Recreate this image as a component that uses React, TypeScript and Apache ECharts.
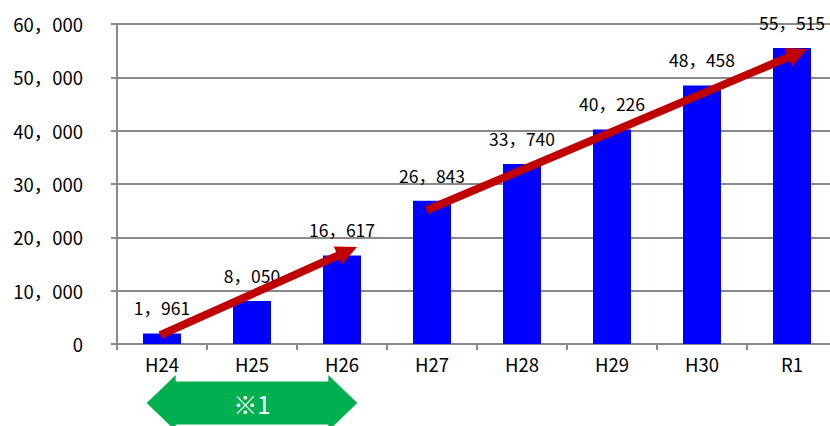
import React, { useEffect, useRef } from "react";
import * as echarts from "echarts";

const categories = ["H24", "H25", "H26", "H27", "H28", "H29", "H30", "R1"];
const values = [1961, 8050, 16617, 26843, 33740, 40226, 48458, 55515];
const yMin = 0;
const yMax = 60000;
const yInterval = 10000;
// trend arrows: [category index (fractional), value]
const arrow1From = [-0.02, 1650];
const arrow1To = [2.167, 18180];
const arrow2From = [2.94, 25070];
const arrow2To = [7.173, 55300];
// period bracket under the axis (category index range)
const periodRange = [-0.17, 2.17];
const periodLabel = "※1";

const FONT = "'Noto Sans CJK JP', 'Noto Sans', sans-serif";
const GRAY = "#8a8a8a";

function fmt(n: number): string {
  return String(n).replace(/\B(?=(\d{3})+(?!\d))/g, "，");
}

export default function App() {
  const ref = useRef<HTMLDivElement>(null);
  useEffect(() => {
    document.body.style.margin = "0";
    const chart = echarts.init(ref.current!, undefined, { renderer: "svg" });
    chart.setOption({
      animation: false,
      textStyle: { fontFamily: FONT },
      grid: { left: 117, top: 24, width: 720, height: 320, outerBoundsMode: "none", containLabel: false },
      xAxis: {
        type: "category",
        data: categories,
        axisLine: { lineStyle: { color: GRAY, width: 2 } },
        axisTick: { show: true, length: 6, lineStyle: { color: GRAY, width: 2 } },
        axisLabel: { color: "#000", fontSize: 18.5, margin: 11, fontFamily: FONT },
      },
      yAxis: {
        type: "value",
        min: yMin,
        max: yMax,
        interval: yInterval,
        axisLine: { show: true, lineStyle: { color: GRAY, width: 2 } },
        axisTick: { show: true, length: 6, lineStyle: { color: GRAY, width: 2 } },
        splitLine: { lineStyle: { color: GRAY, width: 2 } },
        axisLabel: {
          color: "#000",
          fontSize: 18.5,
          margin: 34,
          fontFamily: FONT,
          formatter: (v: number) => fmt(v),
        },
      },
      series: [
        {
          type: "bar",
          data: values,
          barWidth: 38,
          itemStyle: { color: "#0000FF" },
          label: {
            show: true,
            position: "top",
            distance: 17,
            color: "#000",
            fontSize: 17.5,
            fontFamily: FONT,
            formatter: (p: any) => fmt(p.value),
          },
        },
      ],
    });

    const x0 = chart.convertToPixel({ xAxisIndex: 0 }, 0) as number;
    const x1 = chart.convertToPixel({ xAxisIndex: 0 }, 1) as number;
    const toPx = (p: number[]) => [
      x0 + p[0] * (x1 - x0),
      chart.convertToPixel({ yAxisIndex: 0 }, p[1]) as number,
    ];
    const arrowPoly = (from: number[], to: number[]) => {
      const T = toPx(from);
      const P = toPx(to);
      const dx = P[0] - T[0];
      const dy = P[1] - T[1];
      const len = Math.sqrt(dx * dx + dy * dy);
      const ux = dx / len, uy = dy / len;
      const nx = -uy, ny = ux;
      const L = 21, H = 10, w = 4;
      const B = [P[0] - L * ux, P[1] - L * uy];
      return [
        [T[0] + w * nx, T[1] + w * ny],
        [B[0] + w * nx, B[1] + w * ny],
        [B[0] + H * nx, B[1] + H * ny],
        [P[0], P[1]],
        [B[0] - H * nx, B[1] - H * ny],
        [B[0] - w * nx, B[1] - w * ny],
        [T[0] - w * nx, T[1] - w * ny],
      ];
    };
    const axisY = chart.convertToPixel({ yAxisIndex: 0 }, 0) as number;
    const gl = x0 + periodRange[0] * (x1 - x0);
    const gr = x0 + periodRange[1] * (x1 - x0);
    const cy = axisY + 59;
    const headL = 29;
    const greenPts = [
      [gl, cy],
      [gl + headL, cy - 28],
      [gl + headL, cy - 21.5],
      [gr - headL, cy - 21.5],
      [gr - headL, cy - 28],
      [gr, cy],
      [gr - headL, cy + 28],
      [gr - headL, cy + 21.5],
      [gl + headL, cy + 21.5],
      [gl + headL, cy + 28],
    ];
    chart.setOption({
      graphic: [
        { type: "polygon", shape: { points: arrowPoly(arrow1From, arrow1To) }, style: { fill: "#C00000" }, z: 100 },
        { type: "polygon", shape: { points: arrowPoly(arrow2From, arrow2To) }, style: { fill: "#C00000" }, z: 100 },
        { type: "polygon", shape: { points: greenPts }, style: { fill: "#00B050" }, z: 100 },
        {
          type: "text",
          x: (gl + gr) / 2,
          y: cy,
          z: 101,
          style: {
            text: periodLabel,
            fill: "#fff",
            fontSize: 24,
            fontFamily: FONT,
            align: "center",
            verticalAlign: "middle",
          },
        },
      ],
    });
    return () => chart.dispose();
  }, []);
  return (
    <div
      ref={ref}
      style={{ position: "fixed", left: 0, top: 0, width: 830, height: 426, background: "#fff" }}
    />
  );
}
